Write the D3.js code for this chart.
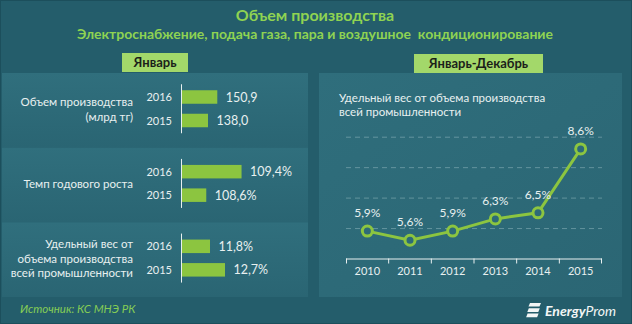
<!DOCTYPE html>
<html>
<head>
<meta charset="utf-8">
<script src="https://cdn.jsdelivr.net/npm/d3@7"></script>
<style>
  html, body { margin: 0; padding: 0; background: #245d6b; }
  svg { display: block; }
  text { font-family: Lato, "Open Sans", sans-serif; white-space: pre; }
</style>
</head>
<body>
<svg id="chart" width="632" height="324"></svg>
<script>
// ---- data ----
const title = "Объем производства";
const subtitle = "Электроснабжение, подача газа, пара и воздушное  кондиционирование";
const leftHeader = "Январь";
const rightHeader = "Январь-Декабрь";
const source = "Источник: КС МНЭ РК";

const barCategories = [
  ["Объем производства", "(млрд тг)"],
  ["Темп годового роста"],
  ["Удельный вес от", "объема производства", "всей промышленности"]
];
const barYears = ["2016", "2015"];
const barValues2016 = [150.9, 109.4, 11.8];
const barValues2015 = [138.0, 108.6, 12.7];
const barLabels2016 = ["150,9", "109,4%", "11,8%"];
const barLabels2015 = ["138,0", "108,6%", "12,7%"];
const barAxisMin = [101.9, 108.05, 10.12];
const barAxisMax = [185.2, 109.41, 13.72];

const lineTitle = ["Удельный вес от объема производства", "всей промышленности"];
const lineYears = ["2010", "2011", "2012", "2013", "2014", "2015"];
const lineValues = [5.9, 5.6, 5.9, 6.3, 6.5, 8.6];
const lineLabels = ["5,9%", "5,6%", "5,9%", "6,3%", "6,5%", "8,6%"];
const lineGrid = [6, 7, 8, 9];

// ---- drawing ----
const svg = d3.select("#chart");
const W = 632, H = 324;
const green = "#8cc540";
const light = "#e8f0f0";
const titleGreen = "#8fd352";

const defs = svg.append("defs");
const pg = defs.append("linearGradient").attr("id", "panelGrad")
  .attr("x1", 0).attr("y1", 0).attr("x2", 0).attr("y2", 1);
pg.append("stop").attr("offset", "0%").attr("stop-color", "#306f7d");
pg.append("stop").attr("offset", "100%").attr("stop-color", "#2a6573");
const rg = defs.append("linearGradient").attr("id", "rightGrad")
  .attr("x1", 0).attr("y1", 0).attr("x2", 1).attr("y2", 1);
rg.append("stop").attr("offset", "0%").attr("stop-color", "#2f6e7c");
rg.append("stop").attr("offset", "100%").attr("stop-color", "#2b6674");

svg.append("rect").attr("width", W).attr("height", H).attr("fill", "#245d6b");
svg.append("rect").attr("x", 0.5).attr("y", 0.5).attr("width", W - 1).attr("height", H - 1)
  .attr("fill", "none").attr("stroke", "#1c4f5c");

// titles
svg.append("text").attr("x", 315).attr("y", 21).attr("text-anchor", "middle")
  .attr("fill", titleGreen).attr("font-weight", "bold").attr("font-size", 16).text(title);
svg.append("text").attr("x", 315).attr("y", 38.5).attr("text-anchor", "middle")
  .attr("fill", titleGreen).attr("font-weight", "bold").attr("font-size", 14).text(subtitle);

// ---- left panel: bar groups ----
const groupY = d3.scaleBand().domain(d3.range(barCategories.length)).range([73, 297]);
const barY = d3.scalePoint().domain(barYears).range([24, 47.5]);
const barH = 13.5;
const axisX = 182, barW = 60;

const groups = svg.append("g").selectAll("g").data(barCategories).join("g")
  .attr("transform", (d, i) => `translate(0,${groupY(i)})`);

groups.append("rect").attr("x", 2).attr("y", 0).attr("width", 306)
  .attr("height", groupY.bandwidth()).attr("fill", "url(#panelGrad)");

groups.each(function (lines, i) {
  const g = d3.select(this);
  const x = d3.scaleLinear().domain([barAxisMin[i], barAxisMax[i]]).range([axisX, axisX + barW]);
  const rows = [
    { year: barYears[0], v: barValues2016[i], lab: barLabels2016[i] },
    { year: barYears[1], v: barValues2015[i], lab: barLabels2015[i] }
  ];
  g.selectAll("rect.bar").data(rows).join("rect").attr("class", "bar")
    .attr("x", axisX).attr("y", d => barY(d.year) - barH / 2)
    .attr("width", d => x(d.v) - axisX).attr("height", barH).attr("fill", green);
  g.selectAll("text.yr").data(rows).join("text").attr("class", "yr")
    .attr("x", 172).attr("y", d => barY(d.year) + 4).attr("text-anchor", "end")
    .attr("fill", light).attr("font-size", 11).text(d => d.year);
  g.selectAll("text.val").data(rows).join("text").attr("class", "val")
    .attr("x", d => x(d.v) + 8.5).attr("y", d => barY(d.year) + 4.5)
    .attr("fill", light).attr("font-size", 12.5).text(d => d.lab);
  const y0 = barY(barYears[0]) - barH / 2 - 6, y1 = barY(barYears[1]) + barH / 2 + 6;
  g.append("line").attr("x1", axisX - 0.5).attr("x2", axisX - 0.5).attr("y1", y0).attr("y2", y1)
    .attr("stroke", light).attr("stroke-width", 1);
  const mid = (barY(barYears[0]) + barY(barYears[1])) / 2;
  const lh = 14.8;
  const t = g.append("text").attr("text-anchor", "end").attr("fill", light).attr("font-size", 11.5);
  lines.forEach((ln, k) => {
    t.append("tspan").attr("x", 133)
      .attr("y", mid + (k - (lines.length - 1) / 2) * lh + 4.5).text(ln);
  });
});

// ---- right panel: line chart ----
svg.append("rect").attr("x", 319).attr("y", 73).attr("width", 303).attr("height", 224)
  .attr("fill", "url(#rightGrad)");

const lt = svg.append("text").attr("fill", light).attr("font-size", 11.5);
lineTitle.forEach((ln, k) => lt.append("tspan").attr("x", 339).attr("y", 101.5 + k * 14.4).text(ln));

const xs = d3.scaleBand().domain(lineYears).range([346, 602]);
const ys = d3.scaleLinear().domain([5, 9]).range([258.5, 136.7]);

svg.append("g").selectAll("line").data(lineGrid).join("line")
  .attr("x1", 346).attr("x2", 602).attr("y1", d => ys(d) + 0.5).attr("y2", d => ys(d) + 0.5)
  .attr("stroke", "rgba(200,225,230,0.35)").attr("stroke-dasharray", "5,4");

const xAxis = svg.append("g").attr("transform", `translate(0,${ys(5)})`)
  .call(d3.axisBottom(xs).tickSize(0).tickPadding(9));
xAxis.select(".domain").remove();
xAxis.selectAll("text").attr("fill", light).attr("font-size", 11)
  .style("font-family", "Lato, 'Open Sans', sans-serif");
xAxis.append("line").attr("x1", 346).attr("x2", 602).attr("y1", 0.5).attr("y2", 0.5)
  .attr("stroke", light);
xAxis.selectAll("line.tk").data(d3.range(lineYears.length + 1)).join("line").attr("class", "tk")
  .attr("x1", i => 346 + i * xs.step() + (i === 0 ? 0.5 : i === lineYears.length ? -0.5 : 0))
  .attr("x2", i => 346 + i * xs.step() + (i === 0 ? 0.5 : i === lineYears.length ? -0.5 : 0))
  .attr("y1", 0).attr("y2", 5).attr("stroke", light);

const pts = lineYears.map((yr, i) => ({ yr, v: lineValues[i], lab: lineLabels[i] }));
const cx = d => xs(d.yr) + xs.bandwidth() / 2;

svg.append("path").datum(pts)
  .attr("d", d3.line().x(cx).y(d => ys(d.v)))
  .attr("fill", "none").attr("stroke", green).attr("stroke-width", 3);

svg.append("g").selectAll("circle").data(pts).join("circle")
  .attr("cx", cx).attr("cy", d => ys(d.v)).attr("r", 5)
  .attr("fill", "#2d6a78").attr("stroke", green).attr("stroke-width", 3);

svg.append("g").selectAll("text").data(pts).join("text")
  .attr("x", cx).attr("y", d => ys(d.v) - 14).attr("text-anchor", "middle")
  .attr("fill", light).attr("font-size", 12).text(d => d.lab);

// ---- header tabs ----
const tabs = [
  { label: leftHeader, x: 122, y: 53, w: 66, h: 19 },
  { label: rightHeader, x: 414, y: 54, w: 129, h: 19 }
];
const tab = svg.append("g").selectAll("g").data(tabs).join("g");
tab.append("rect").attr("x", d => d.x).attr("y", d => d.y).attr("width", d => d.w)
  .attr("height", d => d.h).attr("fill", "#a3d86a");
tab.append("text").attr("x", d => d.x + d.w / 2).attr("y", d => d.y + 14)
  .attr("text-anchor", "middle").attr("fill", "#1b1f1a").attr("font-weight", "bold")
  .attr("font-size", 13).text(d => d.label);

// ---- footer ----
svg.append("text").attr("x", 20).attr("y", 313).attr("fill", "#84cc55")
  .attr("font-style", "italic").attr("font-size", 11.5).text(source);

const logo = svg.append("g").attr("fill", "#f2f6f6");
[0, 1, 2].forEach(k => {
  const y = 303 + k * 5.3;
  logo.append("path").attr("d", `M${530 - k * 1.2},${y} L${541 - k * 1.2},${y} L${539.5 - k * 1.2},${y + 3.6} L${528.5 - k * 1.2},${y + 3.6} Z`);
});
const lg = logo.append("text").attr("x", 545).attr("y", 316).attr("font-size", 14)
  .attr("font-style", "italic");
lg.append("tspan").attr("font-weight", "bold").text("Energy");
lg.append("tspan").text("Prom");
</script>
</body>
</html>
